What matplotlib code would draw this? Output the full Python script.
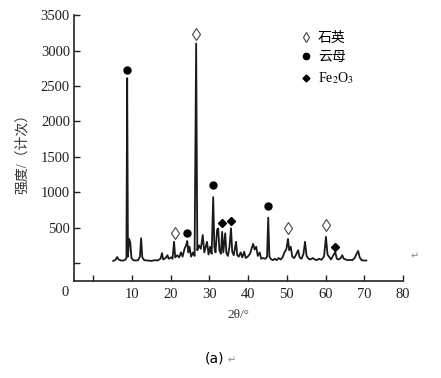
import matplotlib
matplotlib.use("Agg")
import matplotlib.pyplot as plt
from matplotlib.lines import Line2D
from matplotlib.transforms import blended_transform_factory

plt.rcParams['font.family'] = ['Liberation Serif', 'Noto Sans CJK SC', 'DejaVu Sans']
plt.rcParams['mathtext.fontset'] = 'stix'

# XRD trace (2theta in degrees, intensity in counts)
two_theta = [5.2, 5.8, 6.2, 6.6, 7.2, 7.8, 8.3, 8.6, 8.8, 9.0, 9.3, 9.6, 9.9,
             10.4, 11.0, 11.6, 12.1, 12.4, 12.7, 13.2, 14.0, 15.0, 16.0, 16.6,
             17.4, 17.8, 18.1, 18.7, 19.2, 19.5, 20.1, 20.5, 20.9, 21.2, 21.7,
             22.2, 22.7, 23.1, 23.6, 24.0, 24.3, 24.6, 24.9, 25.3, 25.8, 26.2,
             26.6, 26.9, 27.3, 27.8, 28.3, 28.7, 29.4, 29.8, 30.2, 30.6, 31.0,
             31.3, 31.6, 32.0, 32.3, 32.6, 33.0, 33.3, 33.6, 34.1, 34.4, 34.8,
             35.2, 35.6, 35.9, 36.3, 36.9, 37.2, 37.6, 38.1, 38.5, 39.0, 39.4,
             39.9, 40.5, 41.3, 41.7, 42.1, 42.5, 43.0, 43.4, 43.9, 44.5, 44.9,
             45.2, 45.5, 45.9, 46.4, 46.9, 47.4, 47.9, 48.4, 48.9, 49.4, 49.9,
             50.3, 50.6, 51.0, 51.4, 51.9, 52.4, 52.9, 53.3, 53.8, 54.3, 54.7,
             55.1, 55.6, 56.1, 56.7, 57.2, 57.7, 58.3, 58.9, 59.6, 60.1, 60.5,
             60.9, 61.4, 61.9, 62.5, 62.9, 63.4, 63.9, 64.3, 64.7, 65.2, 65.7,
             66.3, 66.9, 67.5, 67.9, 68.4, 68.8, 69.3, 70.0, 70.5]
intensity = [30, 45, 85, 50, 35, 35, 45, 70, 2610, 90, 340, 290, 70,
             40, 35, 40, 90, 350, 80, 40, 35, 30, 40, 35,
             60, 140, 50, 70, 110, 60, 80, 60, 300, 80, 110,
             80, 150, 90, 200, 250, 310, 150, 230, 90, 150, 100,
             3100, 180, 250, 200, 395, 150, 300, 120, 230, 130, 930,
             220, 150, 470, 490, 180, 130, 440, 150, 420, 140, 100,
             230, 490, 160, 110, 300, 110, 90, 150, 80, 160, 70,
             90, 130, 270, 190, 230, 100, 150, 60, 70, 60, 90,
             640, 90, 55, 40, 60, 40, 70, 50, 80, 150, 200,
             340, 180, 230, 90, 70, 120, 180, 80, 60, 130, 300,
             100, 60, 50, 70, 50, 40, 60, 45, 90, 370, 120,
             90, 50, 100, 155, 60, 50, 70, 110, 60, 50, 40,
             45, 40, 70, 120, 170, 80, 40, 35, 35]

# phase markers
quartz_x = [21.2, 26.6, 50.3, 60.1]
quartz_y = [420, 3230, 490, 535]
mica_x = [8.8, 24.3, 31.0, 45.2]
mica_y = [2720, 420, 1100, 800]
fe2o3_x = [33.3, 35.6, 62.5]
fe2o3_y = [565, 590, 225]

x_ticks = [0, 10, 20, 30, 40, 50, 60, 70, 80]
y_ticks = [0, 500, 1000, 1500, 2000, 2500, 3000, 3500]

fig = plt.figure(figsize=(4.41, 3.78), dpi=100)
ax = fig.add_axes([0.168, 0.2566, 0.746, 0.7034])

ax.plot(two_theta, intensity, color='#1a1a1a', lw=1.3)
ax.plot(quartz_x, quartz_y, ls='none', marker='d', ms=6, mfc='white',
        mec='#444444', mew=0.8)
ax.plot(mica_x, mica_y, ls='none', marker='o', ms=5, color='black')
ax.plot(fe2o3_x, fe2o3_y, ls='none', marker='D', ms=3.8, color='black')

ax.set_xlim(-4.9, 80)
ax.set_ylim(-254, 3500)
ax.set_xticks(x_ticks)
ax.set_xticklabels([''] + [str(t) for t in x_ticks[1:]])
ax.set_yticks(y_ticks)
ax.set_yticklabels([''] + [str(t) for t in y_ticks[1:]])
ax.tick_params(direction='in', length=4, width=1, labelsize=10.5,
               colors='#222222', pad=5)
ax.tick_params(axis='y', pad=3)
for s in ['top', 'right']:
    ax.spines[s].set_visible(False)
for s in ['left', 'bottom']:
    ax.spines[s].set_linewidth(1.2)
    ax.spines[s].set_color('#222222')

# the "0" label sits left of the axis in the original
tr = blended_transform_factory(ax.transData, ax.transAxes)
ax.text(-7.2, -0.045, '0', transform=tr, ha='center', va='center',
        fontsize=10.5, color='#222222')

ax.set_xlabel('2θ/°', fontsize=9.5, color='#333333', labelpad=6)
ax.set_ylabel('强度/（计次）', fontsize=10, color='#333333')
ax.yaxis.set_label_coords(-0.137, 0.49)

handles = [Line2D([], [], ls='none', marker='d', ms=5.5, mfc='white',
                  mec='#444444', mew=0.8),
           Line2D([], [], ls='none', marker='o', ms=4.5, color='black'),
           Line2D([], [], ls='none', marker='D', ms=3.5, color='black')]
ax.legend(handles, ['石英', '云母', 'Fe$_2$O$_3$'], loc='upper left',
          bbox_to_anchor=(300 / 441, 1 - 32 / 378), bbox_transform=fig.transFigure,
          frameon=False, fontsize=10, handlelength=0.8, handletextpad=0.5,
          labelspacing=0.45, borderpad=0, borderaxespad=0)

fig.text(215 / 441, 1 - 358 / 378, '(a)', ha='center', va='center',
         fontsize=10, family=['DejaVu Sans'])
fig.text(232 / 441, 1 - 360 / 378, '↵', ha='center', va='center',
         fontsize=7, color='#888888', family=['DejaVu Sans'])
fig.text(415 / 441, 1 - 256 / 378, '↵', ha='center', va='center',
         fontsize=7, color='#888888', family=['DejaVu Sans'])

fig.savefig('out.png', dpi=100)
